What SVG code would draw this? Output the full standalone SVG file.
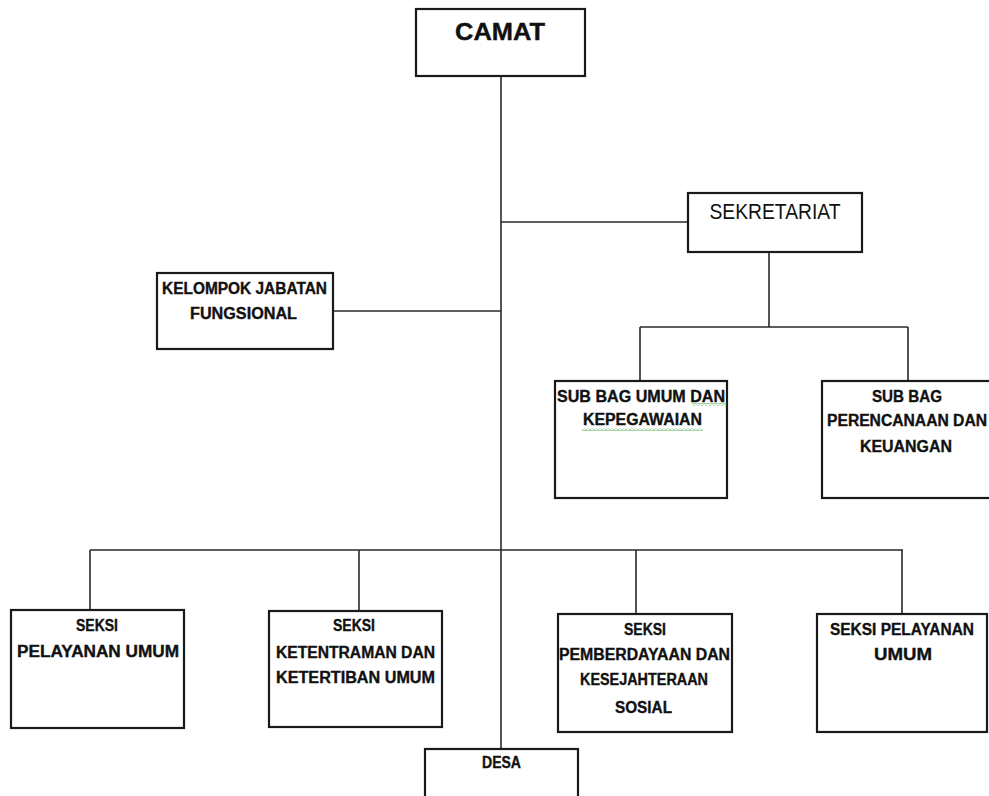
<svg xmlns="http://www.w3.org/2000/svg" width="989" height="796" viewBox="0 0 989 796">
<style>
.box{fill:#fff;stroke:#1a1a1a;stroke-width:2.2}
.ln{fill:none;stroke:#2a2a2a;stroke-width:1.6}
text{font-family:"Liberation Sans",Arial,sans-serif;fill:#111;text-anchor:middle}
.b{font-weight:bold;font-size:16px;stroke:#111;stroke-width:0.35}
</style>
<defs>
<pattern id="sq" width="4" height="3" patternUnits="userSpaceOnUse">
<path d="M0 2.5 L2 0.5 L4 2.5" fill="none" stroke="#3aa63a" stroke-width="0.9"/>
</pattern>
</defs>
<rect width="989" height="796" fill="#fff"/>
<g id="connectors">
<path class="ln" d="M501 76 V749"/>
<path class="ln" d="M501 222 H688"/>
<path class="ln" d="M333 311 H501"/>
<path class="ln" d="M769 252 V327 M640 327 H908 M640 327 V381 M908 327 V381"/>
<path class="ln" d="M90 550 H903 M90 550 V610 M359 550 V611 M636 550 V614 M902 550 V614"/>
</g>
<g id="camat">
<rect class="box" x="416" y="9" width="169" height="67"/>
<text x="500" y="40" style="font-weight:bold;font-size:24px;stroke:#111;stroke-width:0.4" textLength="90" lengthAdjust="spacingAndGlyphs">CAMAT</text>
</g>
<g id="sekretariat">
<rect class="box" x="688" y="193" width="174" height="59"/>
<text x="775" y="219" style="font-size:22px" textLength="131" lengthAdjust="spacingAndGlyphs">SEKRETARIAT</text>
</g>
<g id="kelompok">
<rect class="box" x="157" y="273" width="176" height="76"/>
<text class="b" x="244.5" y="294" textLength="165" lengthAdjust="spacingAndGlyphs">KELOMPOK JABATAN</text>
<text class="b" x="243.5" y="319" textLength="107" lengthAdjust="spacingAndGlyphs">FUNGSIONAL</text>
</g>
<g id="subbag-umum">
<rect class="box" x="555" y="381" width="172" height="117"/>
<text class="b" x="641" y="402" textLength="168" lengthAdjust="spacingAndGlyphs">SUB BAG UMUM DAN</text>
<text class="b" x="642.5" y="425" textLength="119" lengthAdjust="spacingAndGlyphs">KEPEGAWAIAN</text>
<rect x="692" y="403" width="35" height="3" fill="url(#sq)"/>
<rect x="582" y="428" width="121" height="3" fill="url(#sq)"/>
</g>
<g id="subbag-perencanaan">
<rect class="box" x="822" y="381" width="172" height="117"/>
<text class="b" x="907" y="402" textLength="70" lengthAdjust="spacingAndGlyphs">SUB BAG</text>
<text class="b" x="907" y="426" textLength="160" lengthAdjust="spacingAndGlyphs">PERENCANAAN DAN</text>
<text class="b" x="906" y="452" textLength="92" lengthAdjust="spacingAndGlyphs">KEUANGAN</text>
</g>
<g id="seksi-pelayanan-1">
<rect class="box" x="11" y="610" width="173" height="118"/>
<text class="b" x="97" y="631" textLength="42" lengthAdjust="spacingAndGlyphs">SEKSI</text>
<text class="b" x="98" y="657" textLength="162" lengthAdjust="spacingAndGlyphs">PELAYANAN UMUM</text>
</g>
<g id="seksi-ketentraman">
<rect class="box" x="269" y="611" width="173" height="116"/>
<text class="b" x="354" y="631" textLength="42" lengthAdjust="spacingAndGlyphs">SEKSI</text>
<text class="b" x="355.5" y="658" textLength="159" lengthAdjust="spacingAndGlyphs">KETENTRAMAN DAN</text>
<text class="b" x="355.5" y="683" textLength="159" lengthAdjust="spacingAndGlyphs">KETERTIBAN UMUM</text>
</g>
<g id="seksi-pemberdayaan">
<rect class="box" x="558" y="614" width="174" height="118"/>
<text class="b" x="645" y="635" textLength="42" lengthAdjust="spacingAndGlyphs">SEKSI</text>
<text class="b" x="644.5" y="660" textLength="171" lengthAdjust="spacingAndGlyphs">PEMBERDAYAAN DAN</text>
<text class="b" x="644" y="685" textLength="128" lengthAdjust="spacingAndGlyphs">KESEJAHTERAAN</text>
<text class="b" x="643.5" y="713" textLength="57" lengthAdjust="spacingAndGlyphs">SOSIAL</text>
</g>
<g id="seksi-pelayanan-2">
<rect class="box" x="817" y="614" width="170" height="118"/>
<text class="b" x="902" y="635" textLength="144" lengthAdjust="spacingAndGlyphs">SEKSI PELAYANAN</text>
<text class="b" x="903" y="660" textLength="58" lengthAdjust="spacingAndGlyphs">UMUM</text>
</g>
<g id="desa">
<rect class="box" x="425" y="749" width="153" height="60"/>
<text class="b" x="501.5" y="768" textLength="39" lengthAdjust="spacingAndGlyphs">DESA</text>
</g>
</svg>
